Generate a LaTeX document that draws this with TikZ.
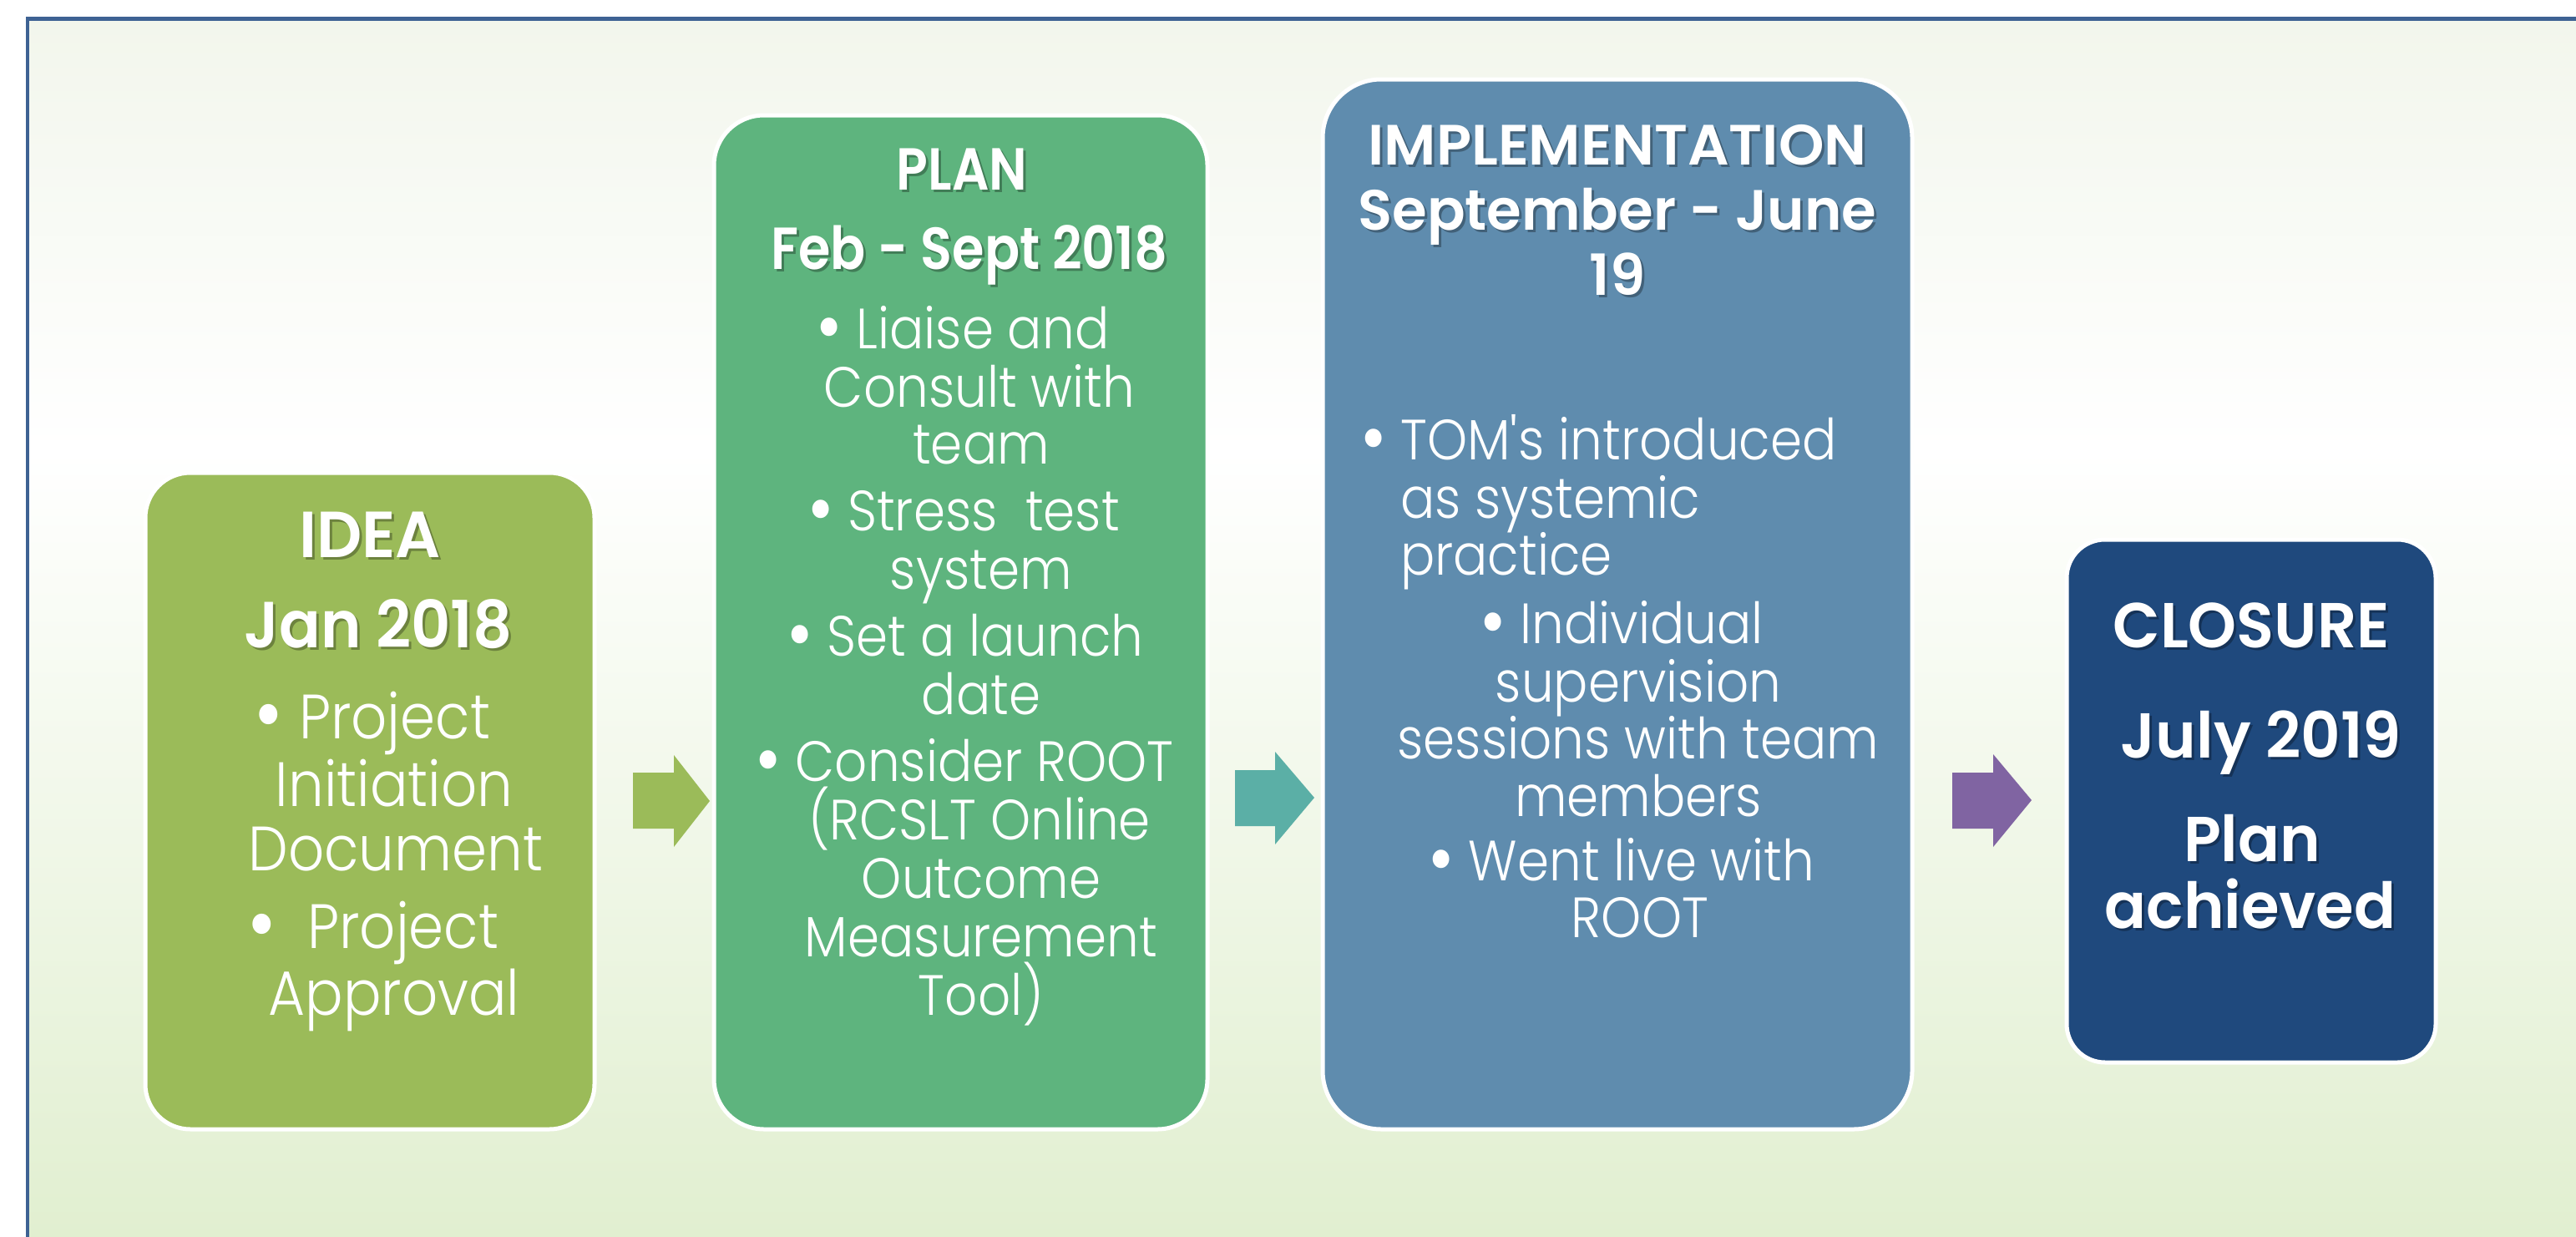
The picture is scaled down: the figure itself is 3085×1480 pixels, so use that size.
\documentclass[tikz,border=0pt]{standalone}
\usepackage{fontspec}
\usepackage{graphicx}
\setmainfont{Poppins}
\IfFontExistsTF{Poppins Light}{%
  \newfontfamily\bodyf[FakeStretch=0.9]{Poppins Light}}{%
  \newfontfamily\bodyf[FakeStretch=0.9]{Poppins}}
\IfFontExistsTF{Poppins SemiBold}{%
  \newfontfamily\headA[FakeStretch=0.97]{Poppins SemiBold}
  \newfontfamily\headJ[FakeStretch=0.94]{Poppins SemiBold}
  \newfontfamily\headP[FakeStretch=0.875]{Poppins SemiBold}
  \newfontfamily\headI[FakeStretch=1.02]{Poppins SemiBold}
  \newfontfamily\headS[FakeStretch=0.99]{Poppins SemiBold}
  \newcommand\hdwt{}}{%
  \newfontfamily\headA[FakeStretch=0.93]{Poppins}
  \newfontfamily\headJ[FakeStretch=0.90]{Poppins}
  \newfontfamily\headP[FakeStretch=0.84]{Poppins}
  \newfontfamily\headI[FakeStretch=0.98]{Poppins}
  \newfontfamily\headS[FakeStretch=0.95]{Poppins}
  \newcommand\hdwt{\bfseries}}
\newcommand\bul{\raisebox{-0.09em}{\scalebox{1.4}{•}}}
\definecolor{ideaC}{HTML}{9BBB59}
\definecolor{planC}{HTML}{5EB47E}
\definecolor{implC}{HTML}{5F8CAE}
\definecolor{closC}{HTML}{1F497D}
\definecolor{arrA}{HTML}{9BBB59}
\definecolor{arrB}{HTML}{5BAFA6}
\definecolor{arrC}{HTML}{8064A2}
\definecolor{frameC}{HTML}{3E6293}
\definecolor{bgTop}{HTML}{F2F6EC}
\definecolor{bgBot}{HTML}{E1EFD0}
\newcommand\headtxt[5]{%
  \node[shd,#4] (#1s) at (#2+3,#3+3) {#5};
  \node[txt,#4] (#1) at (#2,#3) {#5};}
\begin{document}
\begin{tikzpicture}[x=1pt,y=-1pt,
  txt/.style={inner sep=0pt, anchor=base, text=white},
  txtw/.style={inner sep=0pt, anchor=base west, text=white},
  shd/.style={inner sep=0pt, anchor=base, text=black, text opacity=0.3},
  box/.style={draw=white, line width=5pt, inner sep=0pt},
  frame/.style={draw=frameC, line width=4.5pt},
  hA/.style={font={\fontsize{78}{90}\selectfont\headA\hdwt}},
  hJ/.style={font={\fontsize{78}{90}\selectfont\headJ\hdwt}},
  hB/.style={font={\fontsize{71}{85}\selectfont\headP\hdwt}},
  hC/.style={font={\fontsize{68}{80}\selectfont\headI\hdwt}},
  hS/.style={font={\fontsize{68}{80}\selectfont\headS\hdwt}},
  hD/.style={font={\fontsize{76}{90}\selectfont\headA\hdwt}},
  bA/.style={font={\fontsize{75}{88}\selectfont\bodyf}},
  bB/.style={font={\fontsize{68}{80}\selectfont\bodyf}},
]
\useasboundingbox (0,0) rectangle (3085,1480);
\clip (0,0) rectangle (3085,1480);
\fill[white] (0,0) rectangle (3085,1480);
% background gradient inside the frame
\shade[top color=bgTop, bottom color=white] (33,22) rectangle (3085,540);
\shade[top color=white, bottom color=bgBot] (33,539) rectangle (3085,1480);
\draw[frame] (33,22.5) rectangle (3200,1600);

% boxes
\node[box, fill=ideaC, rounded corners=54pt, minimum width=538pt, minimum height=786pt] (idea) at (443,959) {};
\node[box, fill=planC, rounded corners=60pt, minimum width=591pt, minimum height=1214pt] (plan) at (1150.5,745) {};
\node[box, fill=implC, rounded corners=70pt, minimum width=706pt, minimum height=1257pt] (impl) at (1937,723.5) {};
\node[box, fill=closC, rounded corners=46pt, minimum width=442pt, minimum height=626pt] (clos) at (2696,959) {};

% block arrows
\fill[arrA] (758,925) -- (807,925) -- (807,904) -- (850,959) -- (807,1014) -- (807,992) -- (758,992) -- cycle;
\fill[arrB] (1479,922) -- (1527,922) -- (1527,900) -- (1574,955) -- (1527,1011) -- (1527,989) -- (1479,989) -- cycle;
\fill[arrC] (2338,925) -- (2387,925) -- (2387,903) -- (2433,958) -- (2387,1014) -- (2387,992) -- (2338,992) -- cycle;

% IDEA
\headtxt{ideaT}{443}{667}{hA}{IDEA}
\headtxt{ideaD}{453}{775}{hJ}{Jan 2018}
\node[txt,bA] (i1) at (446,884) {\bul\ Project};
\node[txt,bA] (i2) at (472,965) {Initiation};
\node[txt,bA] (i3) at (474,1042) {Document};
\node[txt,bA] (i4) at (447,1135) {\bul\ \ Project};
\node[txt,bA] (i5) at (472,1215) {Approval};

% PLAN
\headtxt{planT}{1152}{227}{hB}{PLAN}
\headtxt{planD}{1161}{322}{hB}{Feb - Sept 2018}
\node[txt,bB] (p1) at (1153,417) {\bul\ Liaise and};
\node[txt,bB] (p2) at (1173,487) {Consult with};
\node[txt,bB] (p3) at (1175,555) {team};
\node[txt,bB] (p4) at (1154,635) {\bul\ Stress\ \ test};
\node[txt,bB] (p5) at (1175,705) {system};
\node[txt,bB] (p6) at (1156,785) {\bul\ Set a launch};
\node[txt,bB] (p7) at (1175,855) {date};
\node[txt,bB] (p8) at (1155,935) {\bul\ Consider ROOT};
\node[txt,bB] (p9) at (1173,1005) {(RCSLT Online};
\node[txt,bB] (p10) at (1175,1075) {Outcome};
\node[txt,bB] (p11) at (1175,1145) {Measurement};
\node[txt,bB] (p12) at (1175,1215) {Tool)};

% IMPLEMENTATION
\headtxt{implT}{1937}{197}{hC}{IMPLEMENTATION}
\headtxt{implD}{1937}{275}{hS}{September - June}
\headtxt{implE}{1937}{353}{hS}{19}
\node[txt,bB] (m0) at (1645,550) {\bul};
\node[txtw,bB] (m1) at (1677,550) {TOM\textquotesingle s introduced};
\node[txtw,bB] (m2) at (1677,620) {as systemic};
\node[txtw,bB] (m3) at (1677,688) {practice};
\node[txt,bB] (m4) at (1942,770) {\bul\ Individual};
\node[txt,bB] (m5) at (1962,840) {supervision};
\node[txt,bB] (m6) at (1962,908) {sessions with team};
\node[txt,bB] (m7) at (1962,977) {members};
\node[txt,bB] (m8) at (1942,1054) {\bul\ Went live with};
\node[txt,bB] (m9) at (1964,1122) {ROOT};

% CLOSURE
\headtxt{closT}{2696}{775}{hD}{CLOSURE}
\headtxt{closD}{2708}{907}{hD}{July 2019}
\headtxt{closE}{2697}{1031}{hD}{Plan}
\headtxt{closF}{2695}{1111}{hD}{achieved}
\end{tikzpicture}
\end{document}
